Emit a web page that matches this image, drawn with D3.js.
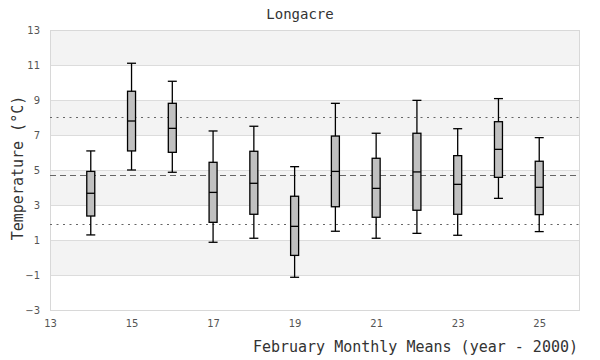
<!DOCTYPE html>
<html><head><meta charset="utf-8">
<script src="https://cdn.jsdelivr.net/npm/d3@7"></script>
<style>body{margin:0;background:#fff}</style>
</head><body>
<svg id="c" width="600" height="360"></svg>
<script>
const years = [14,15,16,17,18,19,20,21,22,23,24,25];
const whiskerLow  = [1.29,5.00,4.87,0.87,1.10,-1.13,1.50,1.10,1.38,1.27,3.38,1.48];
const q1          = [2.37,6.09,6.01,2.01,2.47,0.12,2.90,2.30,2.70,2.47,4.58,2.45];
const medians     = [3.67,7.80,7.38,3.72,4.24,1.78,4.92,3.95,4.89,4.18,6.18,4.01];
const q3          = [4.92,9.50,8.81,5.44,6.07,3.50,6.94,5.67,7.10,5.82,7.76,5.50];
const whiskerHigh = [6.09,11.10,10.07,7.23,7.50,5.19,8.81,7.10,8.98,7.36,9.08,6.85];
const refLines = [{v:8.01, dash:"2,4.5"},{v:4.71, dash:"6,4"},{v:1.91, dash:"2,4.5"}];
const xTicks = [13,15,17,19,21,23,25];
const yTicks = [-3,-1,1,3,5,7,9,11,13];

const svg = d3.select("#c");
const L=50,R=580,T=30,B=310;
const x = d3.scaleLinear().domain([13,26]).range([L,R]);
const y = d3.scaleLinear().domain([-3,13]).range([B,T]);

// bands
const bands = [];
for (let i=0;i<yTicks.length-1;i++) bands.push([yTicks[i],yTicks[i+1]]);
svg.append("g").selectAll("rect").data(bands).join("rect")
  .attr("x",L).attr("width",R-L)
  .attr("y",d=>y(d[1])).attr("height",d=>y(d[0])-y(d[1]))
  .attr("fill",(d,i)=> (i%2===1)?"#f3f3f3":"#ffffff");
// grid
svg.append("g").selectAll("line").data(yTicks).join("line")
  .attr("x1",L).attr("x2",R).attr("y1",d=>y(d)+0.5).attr("y2",d=>y(d)+0.5)
  .attr("stroke","#dcdcdc");
svg.append("rect").attr("x",L+0.5).attr("y",T+0.5).attr("width",R-L-1).attr("height",B-T)
  .attr("fill","none").attr("stroke","#d8d8d8");

// ref lines
svg.append("g").selectAll("line").data(refLines).join("line")
  .attr("x1",L).attr("x2",R).attr("y1",d=>Math.round(y(d.v))+0.5).attr("y2",d=>Math.round(y(d.v))+0.5)
  .attr("stroke","#666").attr("stroke-width",1).attr("stroke-dasharray",d=>d.dash);

// axes
const yAxis = d3.axisLeft(y).tickValues(yTicks).tickSize(0).tickPadding(10);
const gy = svg.append("g").attr("transform",`translate(${L},0)`).call(yAxis);
const xAxis = d3.axisBottom(x).tickValues(xTicks).tickSize(0).tickPadding(10);
const gx = svg.append("g").attr("transform",`translate(0,${B})`).call(xAxis);
[gy,gx].forEach(g=>{
  g.select(".domain").remove();
  g.selectAll("text").attr("font-family","DejaVu Sans").attr("font-size",10).attr("fill","#555");
});

// boxes
const data = years.map((yr,i)=>({yr,lo:whiskerLow[i],q1:q1[i],med:medians[i],q3:q3[i],hi:whiskerHigh[i]}));
const bw=8, cw=9;
const g = svg.append("g").attr("stroke","#000").attr("stroke-width",1.3);
const bx = g.selectAll("g").data(data).join("g");
bx.append("line").attr("x1",d=>x(d.yr)).attr("x2",d=>x(d.yr)).attr("y1",d=>y(d.hi)).attr("y2",d=>y(d.lo));
bx.append("line").attr("x1",d=>x(d.yr)-cw/2).attr("x2",d=>x(d.yr)+cw/2).attr("y1",d=>y(d.hi)).attr("y2",d=>y(d.hi));
bx.append("line").attr("x1",d=>x(d.yr)-cw/2).attr("x2",d=>x(d.yr)+cw/2).attr("y1",d=>y(d.lo)).attr("y2",d=>y(d.lo));
bx.append("rect").attr("x",d=>x(d.yr)-bw/2).attr("width",bw)
  .attr("y",d=>y(d.q3)).attr("height",d=>y(d.q1)-y(d.q3)).attr("fill","#c0c0c0");
bx.append("line").attr("x1",d=>x(d.yr)-bw/2).attr("x2",d=>x(d.yr)+bw/2).attr("y1",d=>y(d.med)).attr("y2",d=>y(d.med));

// titles
const mono = "DejaVu Sans Mono";
svg.append("text").attr("x",300).attr("y",19).attr("text-anchor","middle")
  .attr("font-family",mono).attr("font-size",14).attr("fill","#333").text("Longacre");
svg.append("text").attr("x",578).attr("y",352).attr("text-anchor","end")
  .attr("font-family",mono).attr("font-size",15).attr("fill","#333").text("February Monthly Means (year - 2000)");
svg.append("text").attr("transform",`translate(23,${(T+B)/2-2}) rotate(-90)`).attr("text-anchor","middle")
  .attr("font-family",mono).attr("font-size",15).attr("fill","#333").text("Temperature (°C)");
</script>
</body></html>
